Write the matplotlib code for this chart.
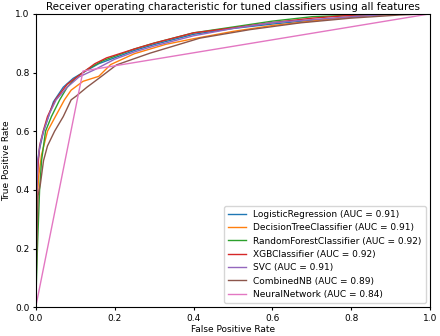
import numpy as np
import matplotlib
matplotlib.use("Agg")
import matplotlib.pyplot as plt

# hand-read ROC points for each tuned model
lr_fpr = [0, 0, 0.003, 0.006, 0.01, 0.02, 0.03, 0.045, 0.07, 0.095, 0.12, 0.16, 0.2, 0.25, 0.3, 0.4, 0.5, 0.6, 0.7, 0.8, 0.85, 0.9, 1.0]
lr_tpr = [0, 0.3, 0.42, 0.5, 0.54, 0.6, 0.64, 0.7, 0.75, 0.78, 0.8, 0.83, 0.85, 0.875, 0.895, 0.93, 0.95, 0.965, 0.978, 0.988, 0.995, 1.0, 1.0]

dt_fpr = [0, 0.003, 0.008, 0.015, 0.03, 0.05, 0.073, 0.09, 0.12, 0.16, 0.19, 0.25, 0.33, 0.4, 0.5, 0.6, 0.7, 0.8, 0.9, 1.0]
dt_tpr = [0, 0.35, 0.45, 0.52, 0.6, 0.65, 0.707, 0.74, 0.77, 0.787, 0.827, 0.864, 0.896, 0.915, 0.94, 0.96, 0.975, 0.99, 0.998, 1.0]

rf_fpr = [0, 0.005, 0.01, 0.015, 0.025, 0.04, 0.061, 0.08, 0.1, 0.13, 0.17, 0.2, 0.25, 0.3, 0.4, 0.5, 0.6, 0.7, 0.8, 0.9, 1.0]
rf_tpr = [0, 0.22, 0.4, 0.5, 0.6, 0.65, 0.707, 0.75, 0.78, 0.81, 0.84, 0.855, 0.88, 0.9, 0.935, 0.955, 0.975, 0.99, 0.995, 1.0, 1.0]

xgb_fpr = [0, 0.002, 0.006, 0.01, 0.019, 0.03, 0.05, 0.08, 0.11, 0.15, 0.18, 0.25, 0.3, 0.4, 0.5, 0.6, 0.7, 0.8, 0.9, 1.0]
xgb_tpr = [0, 0.38, 0.48, 0.55, 0.6, 0.65, 0.707, 0.76, 0.79, 0.83, 0.85, 0.88, 0.9, 0.935, 0.952, 0.97, 0.985, 0.995, 1.0, 1.0]

svc_fpr = [0, 0.002, 0.005, 0.012, 0.02, 0.035, 0.052, 0.08, 0.11, 0.15, 0.2, 0.25, 0.3, 0.4, 0.5, 0.6, 0.7, 0.8, 0.9, 1.0]
svc_tpr = [0, 0.33, 0.5, 0.56, 0.6, 0.66, 0.707, 0.75, 0.785, 0.81, 0.845, 0.87, 0.89, 0.925, 0.95, 0.97, 0.98, 0.99, 0.998, 1.0]

nb_fpr = [0, 0.003, 0.006, 0.012, 0.02, 0.03, 0.048, 0.07, 0.09, 0.103, 0.13, 0.16, 0.205, 0.29, 0.416, 0.543, 0.67, 0.797, 0.924, 1.0]
nb_tpr = [0, 0.2, 0.38, 0.42, 0.5, 0.55, 0.6, 0.65, 0.707, 0.72, 0.75, 0.78, 0.826, 0.866, 0.917, 0.946, 0.969, 0.985, 0.996, 1.0]

nn_fpr = [0, 0.12, 1.0]
nn_tpr = [0, 0.805, 1.0]

names = ["LogisticRegression", "DecisionTreeClassifier", "RandomForestClassifier",
         "XGBClassifier", "SVC", "CombinedNB", "NeuralNetwork"]
aucs = [0.91, 0.91, 0.92, 0.92, 0.91, 0.89, 0.84]
curves = [(lr_fpr, lr_tpr), (dt_fpr, dt_tpr), (rf_fpr, rf_tpr), (xgb_fpr, xgb_tpr),
          (svc_fpr, svc_tpr), (nb_fpr, nb_tpr), (nn_fpr, nn_tpr)]

fig = plt.figure(figsize=(4.4, 3.36), dpi=100)
ax = fig.add_axes([0.081, 0.085, 0.897, 0.874])

for (f, t), name, auc in zip(curves, names, aucs):
    ax.plot(f, t, lw=1.0, label="%s (AUC = %.2f)" % (name, auc))

ax.set_xlim(0, 1)
ax.set_ylim(0, 1)
ax.set_title("Receiver operating characteristic for tuned classifiers using all features", fontsize=7.5, pad=3)
ax.set_xlabel("False Positive Rate", fontsize=6.5, labelpad=2)
ax.set_ylabel("True Positive Rate", fontsize=6.5, labelpad=3)
ax.tick_params(labelsize=6.5, length=2.5, pad=2)
ax.legend(loc="lower right", fontsize=6.5, handlelength=2, labelspacing=0.48, borderpad=0.45)

fig.savefig("out.png", dpi=100)
